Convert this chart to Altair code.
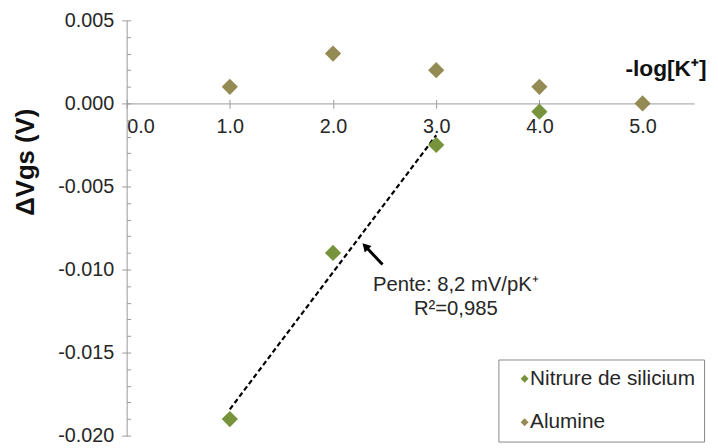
import altair as alt
import pandas as pd

FONT = "Liberation Sans"

# ---- data ----
x_nitrure = [1, 2, 3, 4]
y_nitrure = [-0.0190, -0.0090, -0.0025, -0.0005]
x_alumine = [1, 2, 3, 4, 5]
y_alumine = [0.0010, 0.0030, 0.0020, 0.0010, 0.0000]
series_names = ["Nitrure de silicium", "Alumine"]
series_colors = ["#77933C", "#948A54"]
fit_extent = [1, 3]          # linear fit drawn over the first three Nitrure points

x_ticks = [0, 1, 2, 3, 4, 5]
y_major = [0.005, 0.0, -0.005, -0.010, -0.015, -0.020]
y_minor = [round(-0.020 + 0.001 * i, 3) for i in range(26)]

annot_lines = ["Pente: 8,2 mV/pK\u207a", "R\u00b2=0,985"]
annot_x = [3.19, 3.19]
annot_y = [-0.01095, -0.01238]
arrow_tail = [2.48, -0.0097]
arrow_head = [2.313, -0.0086]

# ---- tables ----
df = pd.DataFrame({
    "x": x_nitrure + x_alumine,
    "y": y_nitrure + y_alumine,
    "series": [series_names[0]] * len(x_nitrure) + [series_names[1]] * len(x_alumine),
})
df_n = pd.DataFrame({"x": x_nitrure, "y": y_nitrure})
df_annot = pd.DataFrame({"x": annot_x, "y": annot_y, "t": annot_lines})
df_arrow = pd.DataFrame({"x": [arrow_tail[0]], "y": [arrow_tail[1]],
                         "x2": [arrow_head[0]], "y2": [arrow_head[1]]})
df_head = pd.DataFrame({"x": [arrow_head[0]], "y": [arrow_head[1]]})

W, H = 574, 420
xs = alt.Scale(domain=[0, 5.5], nice=False, zero=False)
ys = alt.Scale(domain=[-0.020, 0.005], nice=False, zero=False)
AX = "#9a9a9a"
TXT = "#262626"

points = alt.Chart(df).mark_point(shape="diamond", filled=True, size=270, opacity=1, strokeWidth=0).encode(
    x=alt.X("x:Q", scale=xs, axis=alt.Axis(
        orient="bottom", offset=-(H - 84), values=x_ticks, format=".1f",
        labelFontSize=20, labelFont=FONT, labelColor=TXT, labelPadding=8,
        tickSize=5, tickColor=AX, domainColor=AX, grid=False,
        title="-log[K\u207a]", titleFont=FONT, titleFontSize=23, titleFontWeight="bold",
        titleColor="#111", titleX=545, titleY=-35, titleAlign="center",
        titleBaseline="middle", titleAngle=0)),
    y=alt.Y("y:Q", scale=ys, axis=alt.Axis(
        orient="left", values=y_major,
        labelExpr="replace(format(datum.value, '.3f'), '\u2212', '-')",
        labelFontSize=20, labelFont=FONT, labelColor=TXT, labelPadding=8,
        tickSize=5, tickColor=AX, domainColor=AX, grid=False,
        title="\u0394Vgs (V)", titleFont=FONT, titleFontSize=26, titleFontWeight="bold",
        titleColor="#111", titleAngle=270, titleX=-102, titleY=143,
        titleAlign="center", titleBaseline="middle")),
    color=alt.Color("series:N", scale=alt.Scale(domain=series_names, range=series_colors),
                    legend=alt.Legend(
                        title=None, orient="none", legendX=376, legendY=343,
                        direction="vertical", fillColor="white", strokeColor="#888",
                        padding=9, labelFontSize=21, labelFont=FONT, labelColor=TXT,
                        labelLimit=400,
                        symbolType="diamond", symbolSize=64, symbolOffset=7,
                        labelOffset={"expr": "-5"}, rowPadding=22, symbolStrokeWidth=0)),
)

extra_ticks = alt.Chart(df).mark_point(opacity=0).encode(
    x=alt.X("x:Q", scale=xs, axis=alt.Axis(
        orient="top", offset=-84, values=x_ticks, labels=False, domain=False,
        tickSize=4, tickColor=AX, grid=False, title=None)),
    y=alt.Y("y:Q", scale=ys, axis=alt.Axis(
        orient="right", offset=-W, values=y_minor, labels=False, domain=False,
        tickSize=4, tickColor=AX, grid=False, title=None)),
)

fit = alt.Chart(df_n).transform_filter(
    f"datum.x >= {fit_extent[0]} && datum.x <= {fit_extent[1]}"
).transform_regression("x", "y", extent=fit_extent).mark_line(
    color="black", strokeDash=[5, 3], strokeWidth=2.2
).encode(
    x=alt.X("x:Q", scale=xs, axis=None),
    y=alt.Y("y:Q", scale=ys, axis=None),
)

arrow = alt.Chart(df_arrow).mark_rule(color="black", strokeWidth=3).encode(
    x=alt.X("x:Q", scale=xs, axis=None),
    y=alt.Y("y:Q", scale=ys, axis=None),
    x2="x2:Q", y2="y2:Q",
)
head = alt.Chart(df_head).mark_point(shape="triangle-up", filled=True, size=90, angle=316,
                                      color="black", opacity=1, strokeWidth=0).encode(
    x=alt.X("x:Q", scale=xs, axis=None),
    y=alt.Y("y:Q", scale=ys, axis=None),
)

annot = alt.Chart(df_annot).mark_text(font=FONT, fontSize=20.5, color=TXT, align="center",
                                      baseline="middle").encode(
    x=alt.X("x:Q", scale=xs, axis=None),
    y=alt.Y("y:Q", scale=ys, axis=None),
    text="t:N",
)

chart = alt.layer(extra_ticks, fit, arrow, head, annot, points).resolve_axis(
    x="independent", y="independent"
).properties(
    width=W, height=H,
    autosize=alt.AutoSizeParams(type="none"),
    padding={"left": 120, "top": 10, "right": 16, "bottom": 10},
    background="white",
).configure_view(stroke=None)

chart.save("out.html", embed_options={"renderer": "svg", "actions": False})
